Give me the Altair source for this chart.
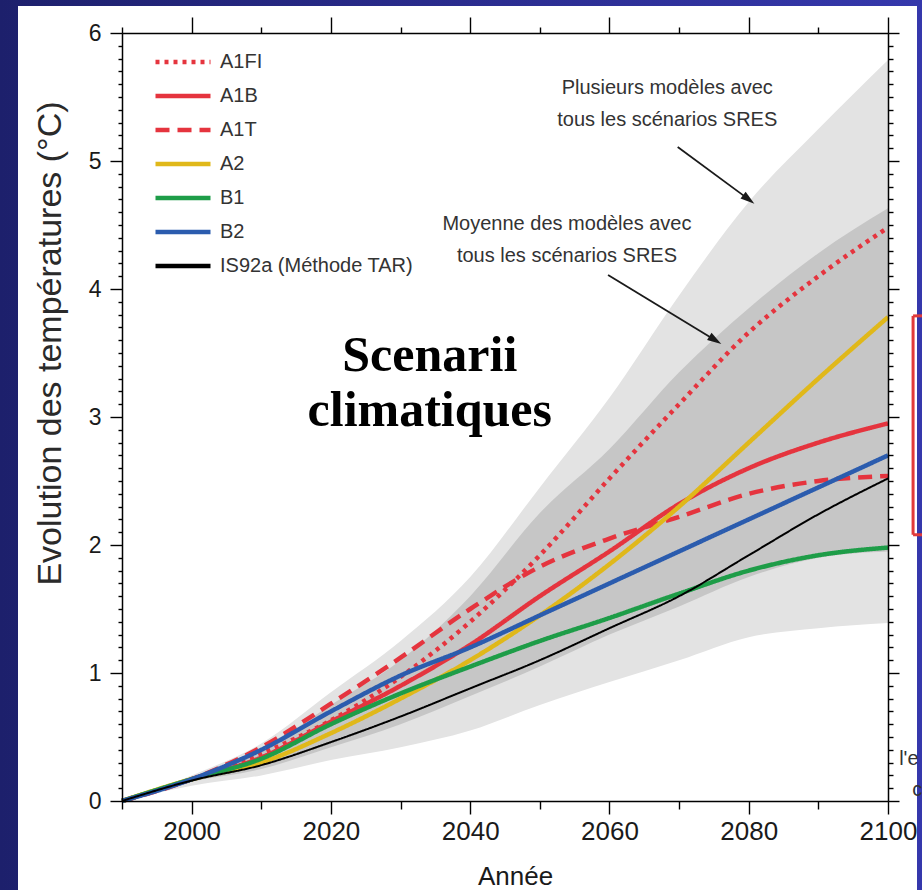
import altair as alt
import pandas as pd

# ---------------- data ----------------
years = [1990, 2000, 2010, 2020, 2030, 2040, 2050, 2060, 2070, 2080, 2090, 2100]

a1fi = [0, 0.17, 0.37, 0.63, 0.97, 1.40, 1.92, 2.52, 3.10, 3.66, 4.10, 4.48]
a1b = [0, 0.17, 0.34, 0.62, 0.90, 1.22, 1.60, 1.95, 2.32, 2.60, 2.80, 2.95]
a1t = [0, 0.17, 0.42, 0.76, 1.12, 1.50, 1.83, 2.05, 2.22, 2.40, 2.50, 2.54]
a2 = [0, 0.17, 0.30, 0.53, 0.80, 1.10, 1.45, 1.85, 2.30, 2.80, 3.30, 3.78]
b1 = [0, 0.17, 0.33, 0.60, 0.84, 1.05, 1.25, 1.43, 1.62, 1.80, 1.92, 1.98]
b2 = [0, 0.17, 0.40, 0.70, 0.98, 1.20, 1.45, 1.70, 1.95, 2.20, 2.45, 2.70]
is92a = [0, 0.16, 0.28, 0.46, 0.66, 0.88, 1.10, 1.35, 1.60, 1.92, 2.24, 2.52]

outer_hi = [0, 0.20, 0.45, 0.85, 1.25, 1.75, 2.45, 3.15, 3.95, 4.68, 5.25, 5.79]
outer_lo = [0, 0.12, 0.20, 0.32, 0.42, 0.55, 0.75, 0.93, 1.10, 1.28, 1.35, 1.39]
inner_hi = [0, 0.18, 0.40, 0.75, 1.10, 1.60, 2.25, 2.75, 3.35, 3.85, 4.28, 4.63]
inner_lo = [0, 0.15, 0.25, 0.42, 0.60, 0.82, 1.05, 1.30, 1.52, 1.75, 1.90, 1.95]

scenarios = ["A1FI", "A1B", "A1T", "A2", "B1", "B2", "IS92a (Méthode TAR)"]
series_values = [a1fi, a1b, a1t, a2, b1, b2, is92a]
colors = ["#e5343e", "#e5343e", "#e5343e", "#e0b81a", "#1e9d48", "#2b5cae", "#000000"]
dashes = [[4, 5], [1, 0], [14, 8], [1, 0], [1, 0], [1, 0], [1, 0]]

note_x = [2068.3, 2068.3, 2053.9, 2053.9]
note_y = [5.52, 5.27, 4.46, 4.21]
note_text = ["Plusieurs modèles avec", "tous les scénarios SRES",
             "Moyenne des modèles avec", "tous les scénarios SRES"]

title_x = [2034.2, 2034.2]
title_y = [3.36, 2.93]
title_text = ["Scenarii", "climatiques"]

arrow_x = [2069.8, 2059.8]
arrow_y = [5.11, 4.11]
arrow_x2 = [2080.0, 2075.2]
arrow_y2 = [4.70, 3.60]
arrow_angle = [127, 122]

bracket_x = [2103.6, 2103.6, 2103.6]
bracket_x2 = [2103.6, 2106.5, 2106.5]
bracket_y = [2.08, 3.79, 2.08]
bracket_y2 = [3.79, 3.79, 2.08]

edge_x = [2101.6, 2103.5]
edge_y = [0.28, 0.04]
edge_text = ["l'e", "c"]

# ---------------- tables ----------------
rows = []
for name, vals in zip(scenarios, series_values):
    for yr, v in zip(years, vals):
        rows.append({"year": yr, "scenario": name, "value": v})
lines_df = pd.DataFrame(rows)
bands_df = pd.DataFrame({"year": years, "outer_lo": outer_lo, "outer_hi": outer_hi,
                         "inner_lo": inner_lo, "inner_hi": inner_hi})
notes_df = pd.DataFrame({"x": note_x, "y": note_y, "text": note_text})
title_df = pd.DataFrame({"x": title_x, "y": title_y, "text": title_text})
arrows_df = pd.DataFrame({"x": arrow_x, "y": arrow_y, "x2": arrow_x2, "y2": arrow_y2,
                          "angle": arrow_angle})
bracket_df = pd.DataFrame({"x": bracket_x, "x2": bracket_x2, "y": bracket_y, "y2": bracket_y2})
edge_df = pd.DataFrame({"x": edge_x, "y": edge_y, "text": edge_text})
one = pd.DataFrame({"k": [0]})

# ---------------- scales / axes ----------------
XS = alt.Scale(domain=[1990, 2100], nice=False, zero=False)
YS = alt.Scale(domain=[0, 6], nice=False, zero=False)
SANS = "Liberation Sans, Arial, sans-serif"

major_x = [2000, 2020, 2040, 2060, 2080, 2100]
minor_x = [1990, 2010, 2030, 2050, 2070, 2090]
major_y = [0, 1, 2, 3, 4, 5, 6]
minor_y = [round(i * 0.1, 1) for i in range(1, 60) if i % 10 != 0]


def plain_axis(orient, values, size, domain=False):
    return alt.Axis(orient=orient, values=values, tickSize=size, labels=False, domain=domain,
                    domainColor="black", domainWidth=1.5, grid=False, ticks=True, title=None,
                    tickColor="black", tickWidth=1.4, zindex=1)


x_bottom = alt.Axis(orient="bottom", values=major_x, tickSize=13, format="d", labels=True,
                    labelFont=SANS, labelFontSize=26, labelColor="#1a1a1a", labelPadding=4,
                    labelFlush=False, labelOverlap=False,
                    domain=True, domainColor="black", domainWidth=1.5, grid=False,
                    tickColor="black", tickWidth=1.4, zindex=1,
                    title="Année", titleFont=SANS, titleFontSize=26, titleFontWeight="normal",
                    titleColor="#1a1a1a", titleX=393, titleY=83, titleAlign="center",
                    titleBaseline="alphabetic")
y_left = alt.Axis(orient="left", values=major_y, tickSize=12, format="d", labels=True,
                  labelFont=SANS, labelFontSize=23, labelColor="#1a1a1a", labelPadding=9,
                  labelFlush=False, labelOverlap=False,
                  domain=True, domainColor="black", domainWidth=1.5, grid=False,
                  tickColor="black", tickWidth=1.4, zindex=1,
                  title="Evolution des températures (°C)", titleFont=SANS, titleFontSize=34,
                  titleFontWeight="normal", titleColor="#2a2a2a", titleAngle=270,
                  titleX=-62, titleY=310, titleAlign="center", titleBaseline="alphabetic")

legend = alt.Legend(orient="none", legendX=31, legendY=12, title=None, symbolType="stroke",
                    symbolSize=3025, symbolStrokeWidth=4.5, labelFont=SANS, labelFontSize=20,
                    labelColor="#333333", labelOffset=7, rowPadding=0, clipHeight=34,
                    labelLimit=400, padding=0)

color_enc = alt.Color("scenario:N", scale=alt.Scale(domain=scenarios, range=colors), legend=legend)
dash_enc = alt.StrokeDash("scenario:N", scale=alt.Scale(domain=scenarios, range=dashes),
                          legend=legend)

# ---------------- layers ----------------
bg = alt.Chart(one).mark_rect(
    color=alt.Gradient(gradient="linear",
                       stops=[alt.GradientStop(color="#1d206c", offset=0),
                              alt.GradientStop(color="#2a2c8e", offset=0.5),
                              alt.GradientStop(color="#3538ac", offset=1)],
                       x1=0, x2=1, y1=0, y2=0)
).encode(x=alt.value(-122), x2=alt.value(800), y=alt.value(-33), y2=alt.value(857))

panel = alt.Chart(one).mark_rect(color="white").encode(
    x=alt.value(-104), x2=alt.value(795), y=alt.value(-27), y2=alt.value(857))

outer = alt.Chart(bands_df).mark_area(color="#e3e3e3", interpolate="monotone").encode(
    x=alt.X("year:Q", scale=XS, axis=x_bottom),
    y=alt.Y("outer_lo:Q", scale=YS, axis=y_left),
    y2="outer_hi:Q")

inner = alt.Chart(bands_df).mark_area(color="#c6c6c6", interpolate="monotone").encode(
    x=alt.X("year:Q", scale=XS, axis=plain_axis("top", major_x, 16, domain=True)),
    y=alt.Y("inner_lo:Q", scale=YS, axis=plain_axis("right", major_y, 11, domain=True)),
    y2="inner_hi:Q")

colored = alt.Chart(lines_df).transform_filter(
    alt.datum.scenario != "IS92a (Méthode TAR)"
).mark_line(strokeWidth=4.5, interpolate="monotone").encode(
    x=alt.X("year:Q", scale=XS, axis=plain_axis("bottom", minor_x, 8)),
    y=alt.Y("value:Q", scale=YS, axis=plain_axis("left", minor_y, 4)),
    color=color_enc, strokeDash=dash_enc, detail="scenario:N")

black = alt.Chart(lines_df).transform_filter(
    alt.datum.scenario == "IS92a (Méthode TAR)"
).mark_line(strokeWidth=2, interpolate="monotone").encode(
    x=alt.X("year:Q", scale=XS, axis=plain_axis("top", minor_x, 6)),
    y=alt.Y("value:Q", scale=YS, axis=plain_axis("right", minor_y, 5)),
    color=color_enc, strokeDash=dash_enc)

notes = alt.Chart(notes_df).mark_text(font=SANS, fontSize=20, color="#333333",
                                      align="center", baseline="alphabetic").encode(
    x=alt.X("x:Q", scale=XS, axis=None), y=alt.Y("y:Q", scale=YS, axis=None), text="text:N")

big_title = alt.Chart(title_df).mark_text(font="Liberation Serif, Times New Roman, serif",
                                          fontWeight="bold", fontSize=50, color="black",
                                          align="center", baseline="alphabetic").encode(
    x=alt.X("x:Q", scale=XS, axis=None), y=alt.Y("y:Q", scale=YS, axis=None), text="text:N")

arrow_lines = alt.Chart(arrows_df).mark_rule(color="#1a1a1a", strokeWidth=1.8).encode(
    x=alt.X("x:Q", scale=XS, axis=None), y=alt.Y("y:Q", scale=YS, axis=None),
    x2="x2:Q", y2="y2:Q")

arrow_heads = alt.Chart(arrows_df).mark_point(shape="M0,-1L0.6,1L-0.6,1Z", filled=True,
                                              color="#1a1a1a", opacity=1, size=200).encode(
    x=alt.X("x2:Q", scale=XS, axis=None), y=alt.Y("y2:Q", scale=YS, axis=None),
    angle=alt.Angle("angle:Q", scale=None))

bracket = alt.Chart(bracket_df).mark_rule(color="#e03a3a", strokeWidth=3).encode(
    x=alt.X("x:Q", scale=XS, axis=None), y=alt.Y("y:Q", scale=YS, axis=None),
    x2="x2:Q", y2="y2:Q")

edge = alt.Chart(edge_df).mark_text(font=SANS, fontSize=20, color="#333333",
                                    align="left", baseline="alphabetic").encode(
    x=alt.X("x:Q", scale=XS, axis=None), y=alt.Y("y:Q", scale=YS, axis=None), text="text:N")

chart = alt.layer(
    bg, panel, outer, inner, colored, black, notes, big_title, arrow_lines, arrow_heads,
    bracket, edge
).resolve_axis(x="independent", y="independent").properties(
    width=766, height=768,
    autosize=alt.AutoSizeParams(type="none"),
    padding={"left": 122, "top": 33, "right": 34, "bottom": 89},
    background="#1f2272",
).configure_view(stroke=None)

chart.save("out.html", embed_options={"renderer": "svg", "actions": False})
